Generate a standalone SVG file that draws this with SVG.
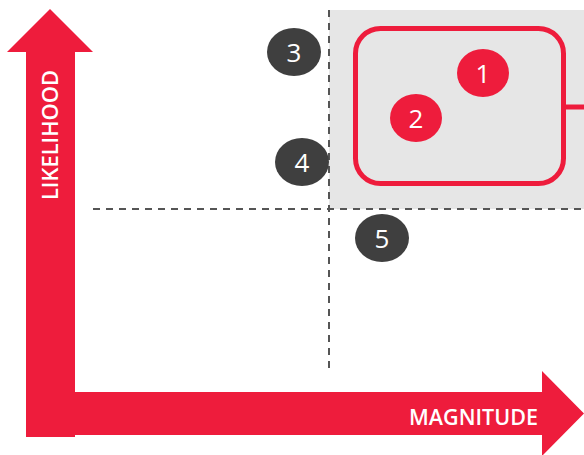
<svg xmlns="http://www.w3.org/2000/svg" width="584" height="455" viewBox="0 0 584 455">
<style>
.red{fill:#EE1C3C}
.dark{fill:#3F3F3F}
.num{font-family:"Open Sans","DejaVu Sans",sans-serif;font-size:26px;fill:#fff;text-anchor:middle}
.lbl{font-family:"Open Sans","DejaVu Sans",sans-serif;font-size:22px;font-weight:600;fill:#fff}
.dash{stroke:#555;stroke-width:2;stroke-dasharray:7 6;fill:none}
</style>
<rect x="329" y="10" width="255" height="199" fill="#E6E6E6"/>
<g id="connectors">
<line class="dash" x1="329" y1="10" x2="329" y2="370"/>
<line class="dash" x1="93" y1="209" x2="584" y2="209"/>
<line x1="566" y1="107" x2="584" y2="107" stroke="#EE1C3C" stroke-width="5"/>
</g>
<g id="axis-likelihood">
<polygon class="red" points="26,437 26,52 7,52 50,9 93,52 75,52 75,437"/>
<text class="lbl" transform="translate(58,200) rotate(-90)" textLength="130" lengthAdjust="spacingAndGlyphs">LIKELIHOOD</text>
</g>
<g id="axis-magnitude">
<polygon class="red" points="26,392 542,392 542,371 584,413.5 542,456 542,435 26,435"/>
<text class="lbl" x="409" y="425" textLength="129" lengthAdjust="spacingAndGlyphs">MAGNITUDE</text>
</g>
<g id="group-box">
<rect x="355.5" y="28.5" width="208" height="155" rx="25" fill="none" stroke="#EE1C3C" stroke-width="5"/>
</g>
<g id="node-1"><ellipse class="red" cx="483" cy="73" rx="26" ry="24"/><text class="num" x="483" y="82.5">1</text></g>
<g id="node-2"><ellipse class="red" cx="416" cy="118" rx="26" ry="24"/><text class="num" x="416" y="127.5">2</text></g>
<g id="node-3"><ellipse class="dark" cx="294" cy="52" rx="27" ry="24"/><text class="num" x="294" y="61.5">3</text></g>
<g id="node-4"><ellipse class="dark" cx="302" cy="162" rx="27" ry="24"/><text class="num" x="302" y="171.5">4</text></g>
<g id="node-5"><ellipse class="dark" cx="382" cy="238" rx="27" ry="24"/><text class="num" x="382" y="247.5">5</text></g>
</svg>
